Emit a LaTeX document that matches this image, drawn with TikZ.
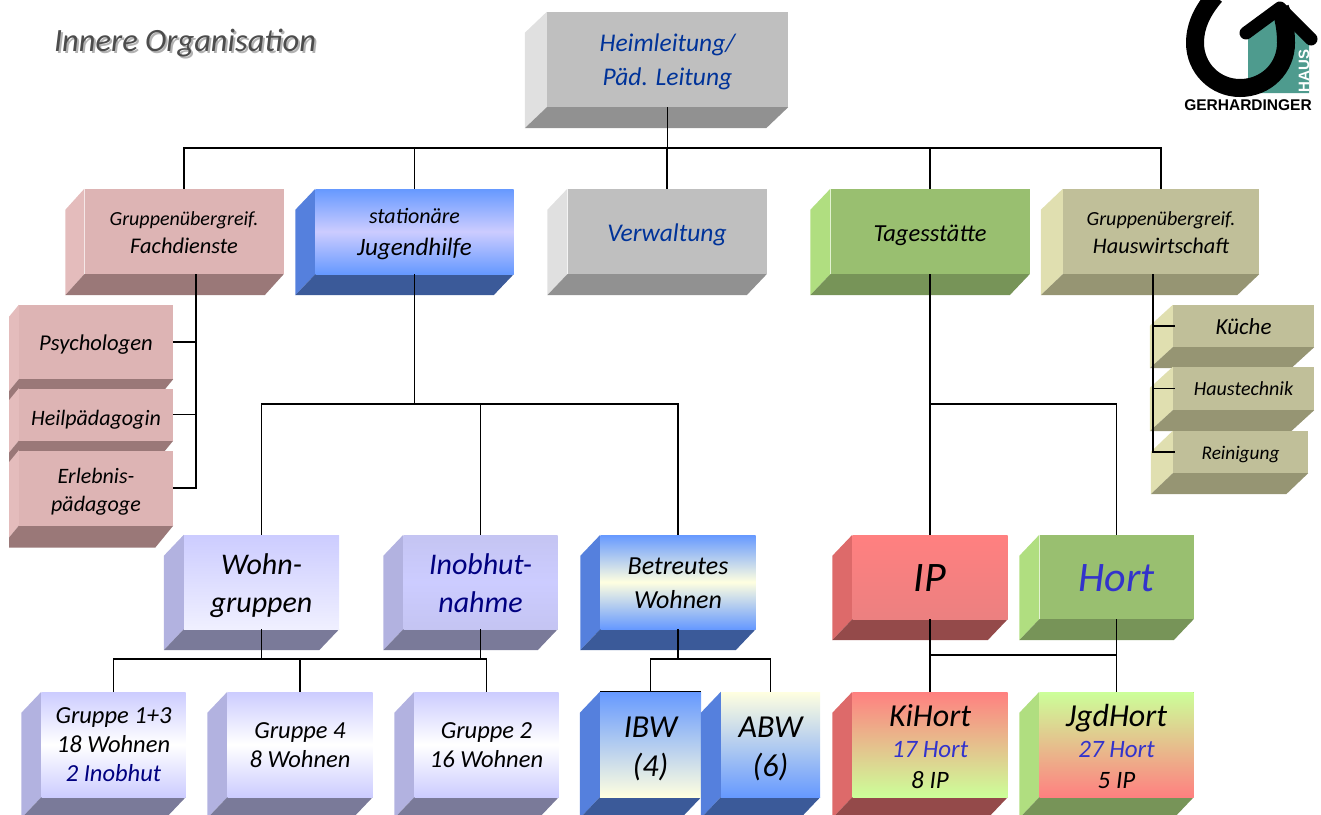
\documentclass[tikz,border=0pt]{standalone}
\usepackage{fontspec}
\setmainfont{Carlito}
\newfontfamily\marca{Liberation Sans}
\usetikzlibrary{positioning}

\definecolor{azul}{HTML}{003399}
\definecolor{marinho}{HTML}{000080}
\definecolor{violeta}{HTML}{3333CC}
\definecolor{azulvivo}{HTML}{6699FF}
\definecolor{creme}{HTML}{FFFFE0}
\definecolor{lilas}{HTML}{CCCCFF}
\definecolor{vermelho}{HTML}{FF8080}
\definecolor{verdeclaro}{HTML}{CCFF99}
\definecolor{teal}{HTML}{4E9B8E}
% Faces: frente, lado e base
\definecolor{rosaF}{HTML}{DDB4B4}
\definecolor{rosaL}{HTML}{E4BCBC}
\definecolor{rosaB}{HTML}{9A7878}
\definecolor{azulL}{HTML}{5580DD}
\definecolor{azulB}{HTML}{3B5A99}
\definecolor{lilasL}{HTML}{B2B2E0}
\definecolor{lilasB}{HTML}{7A7A99}
\definecolor{verdeF}{HTML}{99BF70}
\definecolor{verdeL}{HTML}{B0DE80}
\definecolor{verdeB}{HTML}{779458}
\definecolor{areiaF}{HTML}{C0BF99}
\definecolor{areiaL}{HTML}{E0DFB0}
\definecolor{areiaB}{HTML}{969573}
\definecolor{tomateL}{HTML}{DD6A6A}
\definecolor{tomateB}{HTML}{944A4A}

% Altura extra na primeira linha, para baixar o texto no bloco
\newcommand{\alturatopo}{.95em}
\newcommand{\topo}{\rule{0pt}{\alturatopo}}

\tikzset{
  % Faces lateral e inferior de cada bloco
  relevo/.style n args={4}{
    append after command={\pgfextra{
      \fill[#1] (\tikzlastnode.north west) -- ++(-#3,#4) -- ([xshift=-#3pt,yshift=-#4pt]\tikzlastnode.south west)
        -- (\tikzlastnode.south west) -- cycle;
      \fill[#2] (\tikzlastnode.south west) -- ([xshift=-#3pt,yshift=-#4pt]\tikzlastnode.south west)
        -- ([xshift=-#3pt,yshift=-#4pt]\tikzlastnode.south east) -- (\tikzlastnode.south east) -- cycle;
    }}
  },
  % Estilo padrão dos blocos
  desce/.code={\renewcommand{\alturatopo}{#1}},
  bloco/.style={rectangle, inner sep=0pt, align=center, text=black},
  txt/.style 2 args={font=\fontsize{#1}{#2}\selectfont\itshape},
  % Famílias de cor
  cinza/.style 2 args={bloco, fill=black!25, relevo={black!12}{black!43}{#1}{#2}},
  rosa/.style 2 args={bloco, fill=rosaF, relevo={rosaL}{rosaB}{#1}{#2}},
  azulado/.style={bloco, relevo={azulL}{azulB}{20}{21}},
  lavanda/.style={bloco, relevo={lilasL}{lilasB}{20}{21}},
  verde/.style={bloco, fill=verdeF, relevo={verdeL}{verdeB}{20}{21}},
  areia/.style 2 args={bloco, fill=areiaF, relevo={areiaL}{areiaB}{#1}{#2}},
  tomate/.style={bloco, relevo={tomateL}{tomateB}{20}{21}},
  linha/.style={line width=1.2pt, black},
}

\begin{document}
\begin{tikzpicture}[x=1pt, y=-1pt]
  \useasboundingbox (0,0) rectangle (1321,814);

  % Título
  \node[text=black!30, txt={32.5}{38}] (titulosombra) at (187,45) {Innere Organisation};
  \node[text=black!70, txt={32.5}{38}] (titulo) at (185,43.5) {Innere Organisation};

  % Marca no canto superior direito
  \fill[teal] (1248,32) -- (1280,8) -- (1309,37) -- (1309,93) -- (1248,93) -- cycle;
  \draw[line width=18pt] (1215,-4) .. controls (1203,10) and (1195,25) .. (1195,43)
    .. controls (1195,68) and (1215,88) .. (1240,88)
    .. controls (1266,88) and (1286,68) .. (1286,43)
    .. controls (1286,30) and (1284,18) .. (1280,8);
  \draw[line width=13pt, line cap=round, line join=round] (1246,33) -- (1280,8) -- (1311,39);
  \node[rotate=90, text=white, font=\fontsize{15}{15}\selectfont\marca\bfseries] (logohaus) at (1304,71) {HAUS};
  \node[font=\fontsize{15.5}{16}\selectfont\marca\bfseries] (logotexto) at (1248,105) {GERHARDINGER};

  % Raiz
  \node[cinza={22}{21}, desce=.89em, minimum width=241pt, minimum height=95pt, text=azul, txt={25.5}{34}] (heim) at (667.5,59.5) {\topo Heimleitung/\\Päd. Leitung};

  % Segundo nível
  \node[rosa={19}{21}, desce=.85em, minimum width=199pt, minimum height=85pt, txt={20}{28}] (fach) at (184,231.5) {\topo Gruppenübergreif.\\\fontsize{22.4}{28}\selectfont Fachdienste};
  \node[azulado, desce=.91em, top color=azulvivo, bottom color=azulvivo, middle color=lilas, minimum width=198pt, minimum height=85pt, txt={22}{32}] (jugend) at (414.5,231.5) {\topo stationäre\\\fontsize{25}{32}\selectfont Jugendhilfe};
  \node[cinza={20}{21}, minimum width=199pt, minimum height=85pt, text=azul, txt={25.5}{32}] (verwaltung) at (667,231.5) {\topo Verwaltung};
  \node[verde, minimum width=199pt, minimum height=85pt, txt={24.5}{32}] (tages) at (930,231.5) {\topo Tagesstätte};
  \node[areia={22}{21}, desce=.85em, minimum width=196pt, minimum height=85pt, txt={20}{28}] (haus) at (1161,231.5) {\topo Gruppenübergreif.\\\fontsize{22.3}{28}\selectfont Hauswirtschaft};

  % Fachdienste
  \begin{scope}
    \clip (9,300) rectangle (180,550);
    \node[rosa={18}{22}, minimum width=154pt, minimum height=74pt, txt={22.6}{28}] (psycho) at (96,342) {\topo Psychologen};
    \node[rosa={18}{22}, desce=1.2em, minimum width=154pt, minimum height=52pt, txt={22}{28}] (heil) at (96,414.5) {\topo Heilpädagogin};
    \node[rosa={18}{22}, desce=1.03em, minimum width=154pt, minimum height=75pt, txt={22}{28}] (erlebnis) at (96,488) {\topo Erlebnis-\\pädagoge};
  \end{scope}

  % Hauswirtschaft
  \node[areia={23}{21}, desce=.78em, minimum width=141pt, minimum height=42pt, txt={23}{28}] (kueche) at (1243.5,326) {\topo Küche};
  \node[areia={23}{21}, desce=.75em, minimum width=141pt, minimum height=43pt, txt={20}{28}] (technik) at (1243.5,388.5) {\topo Haustechnik};
  \node[areia={22}{21}, minimum width=135pt, minimum height=42pt, txt={19.3}{28}] (reinigung) at (1240.5,452) {\topo Reinigung};

  % Terceiro nível
  \node[lavanda, desce=.92em, top color=lilas, bottom color=lilas!30, minimum width=155pt, minimum height=94pt, txt={30}{38}] (wohn) at (261.5,582) {\topo Wohn-\\gruppen};
  \node[lavanda, desce=.8em, top color=lilas!90!gray, bottom color=lilas!90!gray, middle color=lilas, minimum width=154pt, minimum height=94pt, text=marinho, txt={30}{38}] (inobhut) at (480.5,582) {\topo Inobhut-\\nahme};
  \node[azulado, desce=.77em, top color=azulvivo, bottom color=azulvivo, middle color=creme, minimum width=155pt, minimum height=94pt, txt={26}{34}] (betreut) at (678,582) {\topo Betreutes\\Wohnen};
  \node[tomate, desce=.7em, top color=vermelho, bottom color=vermelho!85!gray, minimum width=155pt, minimum height=84pt, txt={42}{50}] (ip) at (930,577) {\topo IP};
  \node[verde, desce=.7em, minimum width=154pt, minimum height=84pt, text=violeta, txt={42}{50}] (hort) at (1116.5,577) {\topo Hort};

  % Quarto nível
  \node[lavanda, desce=.7em, top color=lilas, bottom color=lilas, middle color=white, minimum width=144pt, minimum height=105pt, txt={24.5}{29}] (gruppeA) at (113.5,744.5) {\topo Gruppe 1+3\\18 Wohnen\\\textcolor{marinho}{2 Inobhut}};
  \node[lavanda, desce=.7em, top color=lilas, bottom color=lilas, middle color=white, minimum width=145pt, minimum height=105pt, txt={24.5}{29}] (gruppeB) at (300,744.5) {\topo Gruppe 4\\8 Wohnen};
  \node[lavanda, desce=.7em, top color=lilas, bottom color=lilas, middle color=white, minimum width=144pt, minimum height=105pt, txt={24.5}{29}] (gruppeC) at (486.5,744.5) {\topo Gruppe 2\\16 Wohnen};
  \node[azulado, top color=azulvivo, bottom color=creme, desce=.925em, minimum width=101pt, minimum height=105pt, txt={32}{39}] (ibw) at (650.5,744.5) {\topo IBW\\(4)};
  \node[azulado, top color=creme, bottom color=azulvivo, desce=.925em, minimum width=99pt, minimum height=105pt, txt={32}{39}] (abw) at (770.5,744.5) {\topo ABW\\(6)};
  \node[tomate, desce=.83em, top color=vermelho, bottom color=verdeclaro, minimum width=155pt, minimum height=105pt, txt={32}{31}] (kihort) at (930,744.5) {\topo KiHort\\\fontsize{25}{30}\selectfont\textcolor{violeta}{17 Hort}\\\fontsize{25}{29}\selectfont 8 IP};
  \node[verde, desce=.83em, top color=verdeclaro, bottom color=vermelho, minimum width=154pt, minimum height=105pt, txt={32}{31}] (jgdhort) at (1116.5,744.5) {\topo JgdHort\\\fontsize{25}{30}\selectfont\textcolor{violeta}{27 Hort}\\\fontsize{25}{29}\selectfont 5 IP};

  % Pontos de junção
  \coordinate (busraiz) at (667.5,148);
  \coordinate (busjugend) at (414.5,404);
  \coordinate (bustages) at (930,404);
  \coordinate (buswohn) at (261.5,659);
  \coordinate (busbetreut) at (678,659);
  \coordinate (bushort) at (930,655);

  % Ligações da raiz
  \draw[linha] (heim.south) -- (busraiz);
  \draw[linha] (fach.north) |- (busraiz);
  \draw[linha] (jugend.north) |- (busraiz);
  \draw[linha] (verwaltung.north) |- (busraiz);
  \draw[linha] (tages.north) |- (busraiz);
  \draw[linha] (haus.north) |- (busraiz);

  % Fachdienste
  \draw[linha] ([xshift=12pt]fach.south) |- (erlebnis.east);
  \draw[linha] (psycho.east) -| ([xshift=12pt]fach.south);
  \draw[linha] (heil.east) -| ([xshift=12pt]fach.south);

  % Hauswirtschaft
  \draw[linha] ([xshift=-8pt]haus.south) |- ([xshift=2pt]reinigung.west);
  \draw[linha] ([xshift=2pt]kueche.west) -| ([xshift=-8pt]haus.south);
  \draw[linha] ([xshift=2pt]technik.west) -| ([xshift=-8pt]haus.south);

  % Jugendhilfe
  \draw[linha] (jugend.south) -- (busjugend);
  \draw[linha] (wohn.north) |- (busjugend);
  \draw[linha] (inobhut.north) |- (busjugend);
  \draw[linha] (betreut.north) |- (busjugend);

  % Tagesstätte
  \draw[linha] (tages.south) -- (ip.north);
  \draw[linha] (hort.north) |- (bustages);

  % Wohngruppen e Inobhut
  \draw[linha] (wohn.south) -- (buswohn);
  \draw[linha] (inobhut.south) |- (buswohn);
  \draw[linha] (gruppeA.north) |- (buswohn);
  \draw[linha] (gruppeB.north) |- (buswohn);
  \draw[linha] (gruppeC.north) |- (buswohn);

  % Betreutes Wohnen
  \draw[linha] (betreut.south) -- (busbetreut);
  \draw[linha] (ibw.north) |- (busbetreut);
  \draw[linha] (abw.north) |- (busbetreut);
  \draw[linha] (ibw.north west) -- (ibw.north east);

  % IP e Hort
  \draw[linha] (ip.south) -- (kihort.north);
  \draw[linha] (hort.south) -- (jgdhort.north);
  \draw[linha] (hort.south |- bushort) -- (bushort);
\end{tikzpicture}
\end{document}
